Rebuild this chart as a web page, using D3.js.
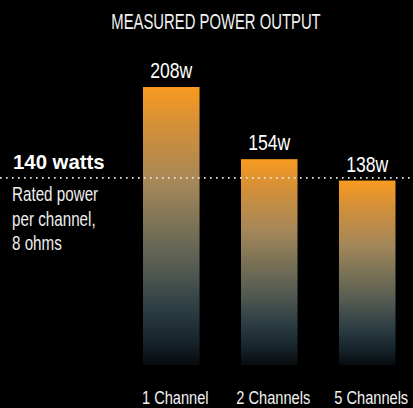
<!DOCTYPE html>
<html>
<head>
<meta charset="utf-8">
<script src="https://cdn.jsdelivr.net/npm/d3@7"></script>
<style>
  html, body { margin: 0; padding: 0; background: #000; }
  svg { display: block; }
  text { font-family: "Liberation Sans", Arial, sans-serif; }
</style>
</head>
<body>
<svg id="chart" width="413" height="408"></svg>
<script>
const title = "MEASURED POWER OUTPUT";
const categories = ["1 Channel", "2 Channels", "5 Channels"];
const values = [208, 154, 138];
const valueLabels = ["208w", "154w", "138w"];
const ratedValue = 140;
const ratedLabel = "140 watts";
const ratedNote = ["Rated power", "per channel,", "8 ohms"];

const W = 413, H = 408;
const svg = d3.select("#chart");

svg.append("rect").attr("width", W).attr("height", H).attr("fill", "#000");

const x = d3.scaleBand().domain(categories).range([143, 395.5]).paddingInner(0.423).paddingOuter(0);
const y = d3.scaleLinear().domain([0, 208]).range([365, 87]);

// condensed text: a group positioned at (px, py), squeezed horizontally
function addText(parent, px, py, str, size, squeeze, anchor, fill, weight) {
  const g = parent.append("g").attr("transform", `translate(${px},${py}) scale(${squeeze},1)`);
  g.append("text").attr("x", 0).attr("y", 0)
    .attr("text-anchor", anchor || "start")
    .attr("font-size", size)
    .attr("font-weight", weight || "normal")
    .attr("fill", fill || "#fff")
    .text(str);
  return g;
}

const defs = svg.append("defs");
const grad = defs.append("linearGradient").attr("id", "barGrad")
  .attr("x1", 0).attr("y1", 0).attr("x2", 0).attr("y2", 1);
[[0, "#f89a20"], [0.15, "#d18f3a"], [0.35, "#a4875a"], [0.5, "#7a7256"], [0.65, "#555b52"],
 [0.8, "#2c3d43"], [0.92, "#15222a"], [1, "#070b0d"]].forEach(([o, c]) => {
  grad.append("stop").attr("offset", o).attr("stop-color", c);
});

// Title
addText(svg, 216, 29, title, 22, 0.675, "middle", "#f2f2f2");

// Bars
svg.selectAll("rect.bar").data(values).join("rect").attr("class", "bar")
  .attr("x", (d, i) => x(categories[i]))
  .attr("y", d => y(d))
  .attr("width", x.bandwidth())
  .attr("height", d => y(0) - y(d))
  .attr("fill", "url(#barGrad)");

// Value labels
values.forEach((v, i) => {
  addText(svg, x(categories[i]) + x.bandwidth() / 2, y(v) - 9, valueLabels[i], 22, 0.8, "middle", "#fff");
});

// Rated line
svg.append("line")
  .attr("x1", 0).attr("x2", W)
  .attr("y1", y(ratedValue)).attr("y2", y(ratedValue))
  .attr("stroke", "#e8e8e8").attr("stroke-width", 1.6)
  .attr("stroke-dasharray", "1.6 4.4");

addText(svg, 13, y(ratedValue) - 9, ratedLabel, 21, 0.97, "start", "#fff", "bold");

ratedNote.forEach((line, i) => {
  addText(svg, 12, y(ratedValue) + 23.5 + i * 24.3, line, 19.5, 0.78, "start", "#eeeeee");
});

// Category labels
categories.forEach(c => {
  addText(svg, x(c) + x.bandwidth() / 2 + 4, 404, c, 18.5, 0.79, "middle", "#f2f2f2");
});
</script>
</body>
</html>
